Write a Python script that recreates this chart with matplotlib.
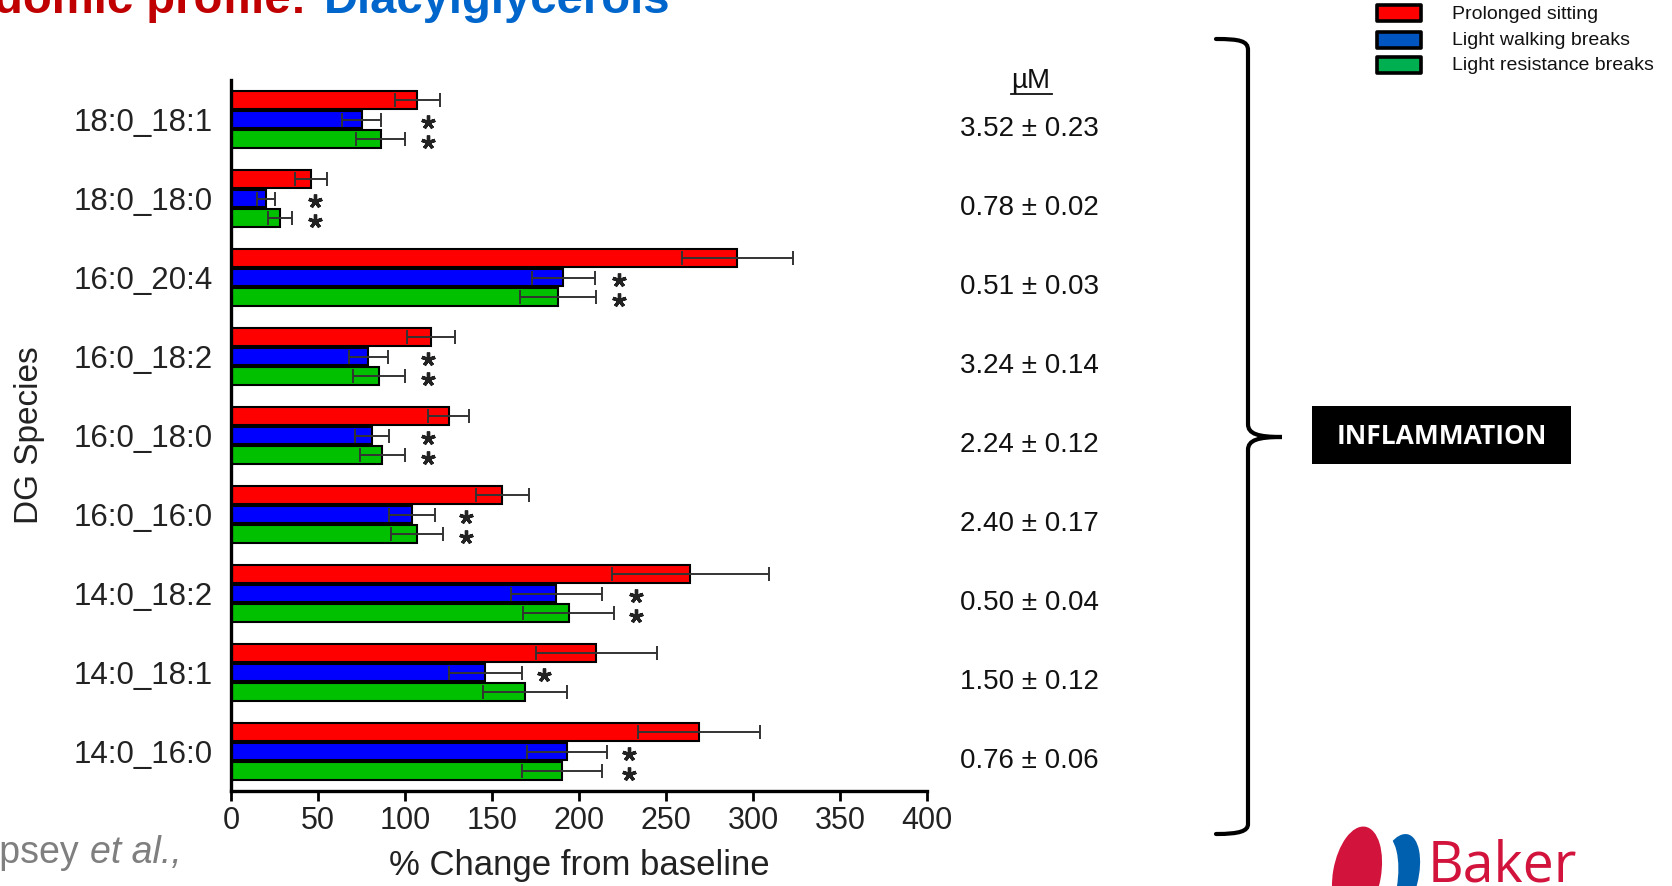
import numpy as np
import matplotlib
matplotlib.use("Agg")
import matplotlib.pyplot as plt
from matplotlib.patches import Rectangle, Ellipse, PathPatch
from matplotlib.path import Path

# data (% change from baseline, mean and SEM)
species = ["18:0_18:1", "18:0_18:0", "16:0_20:4", "16:0_18:2", "16:0_18:0",
           "16:0_16:0", "14:0_18:2", "14:0_18:1", "14:0_16:0"]
sitting = [107, 46, 291, 115, 125, 156, 264, 210, 269]
sitting_err = [13, 9, 32, 14, 12, 15, 45, 35, 35]
walking = [75, 20, 191, 79, 81, 104, 187, 146, 193]
walking_err = [11, 5, 18, 11, 10, 13, 26, 21, 23]
resistance = [86, 28, 188, 85, 87, 107, 194, 169, 190]
resistance_err = [14, 7, 22, 15, 13, 15, 26, 24, 23]
walking_sig = [1, 1, 1, 1, 1, 1, 1, 1, 1]
resistance_sig = [1, 1, 1, 1, 1, 1, 1, 0, 1]
baseline_uM = ["3.52 ± 0.23", "0.78 ± 0.02", "0.51 ± 0.03", "3.24 ± 0.14",
               "2.24 ± 0.12", "2.40 ± 0.17", "0.50 ± 0.04", "1.50 ± 0.12",
               "0.76 ± 0.06"]
legend_labels = ["Prolonged sitting", "Light walking breaks",
                 "Light resistance breaks"]

W, H = 1672, 886
plt.rcParams["font.family"] = ["Liberation Sans", "DejaVu Sans"]

fig = plt.figure(figsize=(W / 100, H / 100), dpi=100)

# overlay in pixel coordinates for slide decorations
deco = fig.add_axes([0, 0, 1, 1])
deco.set_xlim(0, W)
deco.set_ylim(H, 0)
deco.axis("off")

ax = fig.add_axes([231 / W, 1 - 791 / H, (927 - 231) / W, (791 - 80) / H])
ax.patch.set_alpha(0)

y = np.arange(len(species))
bar_h = 0.225
series = [(sitting, sitting_err, "#FF0000", -0.25),
          (walking, walking_err, "#0000FF", 0.0),
          (resistance, resistance_err, "#00C000", 0.25)]
for vals, errs, col, off in series:
    ax.barh(y + off, vals, height=bar_h, color=col, edgecolor="black",
            linewidth=1.5, zorder=2)
    ax.errorbar(vals, y + off, xerr=errs, fmt="none", ecolor="#333333",
                elinewidth=1.4, capsize=5, capthick=1.4, zorder=3)

# significance stars
star = dict(marker=(5, 2, 0), ms=10, mew=2.4, color="#222222",
            clip_on=False, zorder=4)
for i in range(len(species)):
    ends = []
    if walking_sig[i]:
        ends.append(walking[i] + walking_err[i])
    if resistance_sig[i]:
        ends.append(resistance[i] + resistance_err[i])
    if not ends:
        continue
    sx = max(ends) + 13
    if walking_sig[i]:
        ax.plot(sx, y[i] + 0.03, **star)
    if resistance_sig[i]:
        ax.plot(sx, y[i] + 0.28, **star)

# baseline concentrations
for i, txt in enumerate(baseline_uM):
    ax.text(459, y[i] + 0.12, txt, ha="center", va="center", fontsize=20,
            color="#111111", clip_on=False)

ax.set_xlim(0, 400)
ax.set_ylim(len(species) - 0.5, -0.5)
ax.set_xticks(np.arange(0, 401, 50))
ax.set_yticks(y)
ax.set_yticklabels(species)
ax.tick_params(axis="y", length=0, pad=13, labelsize=22.5,
               labelcolor="#222222")
ax.tick_params(axis="x", length=7, width=2, pad=4, labelsize=22,
               labelcolor="#222222")
for side in ["top", "right"]:
    ax.spines[side].set_visible(False)
for side in ["left", "bottom"]:
    ax.spines[side].set_linewidth(2.4)

fig.text(579 / W, 1 - 866 / H, "% Change from baseline", ha="center",
         va="center", fontsize=25, color="#222222")
fig.text(30 / W, 1 - 435 / H, "DG Species", ha="center", va="center",
         rotation=90, fontsize=24, color="#222222")

# µM header with underline
deco.text(1031, 81, "µM", ha="center", va="center", fontsize=20,
          color="#111111")
deco.plot([1011, 1052], [94, 94], color="#111111", lw=1.3)

# title (cut off at top of slide)
deco.text(306, 13, "Lipidomic profile:", ha="right", va="baseline",
          fontsize=34, fontweight="bold", color="#C00000")
deco.text(324, 13, "Diacylglycerols", ha="left", va="baseline",
          fontsize=34, fontweight="bold", color="#0066CC")

# legend
leg_cols = ["#FF0000", "#0055C0", "#00B050"]
leg_y = [13, 39.5, 64.5]
for lab, col, ly in zip(legend_labels, leg_cols, leg_y):
    deco.add_patch(Rectangle((1377, ly - 8), 44, 16, facecolor=col,
                             edgecolor="black", lw=2.6, joinstyle="round"))
    deco.text(1452, ly + 1, lab, ha="left", va="center", fontsize=14,
              color="#111111")

# curly brace
verts = [(1216, 39), (1240, 39), (1248, 41), (1248, 50),
         (1248, 424),
         (1248, 434), (1258, 437), (1282, 437),
         (1258, 437), (1248, 440), (1248, 450),
         (1248, 824),
         (1248, 831), (1240, 834), (1216, 834)]
codes = [Path.MOVETO, Path.CURVE4, Path.CURVE4, Path.CURVE4,
         Path.LINETO,
         Path.CURVE4, Path.CURVE4, Path.CURVE4,
         Path.CURVE4, Path.CURVE4, Path.CURVE4,
         Path.LINETO,
         Path.CURVE4, Path.CURVE4, Path.CURVE4]
deco.add_patch(PathPatch(Path(verts, codes), fill=False, lw=3,
                         edgecolor="black", capstyle="round"))

# INFLAMMATION label
deco.add_patch(Rectangle((1312, 406), 259, 58, facecolor="black",
                         edgecolor="none"))
deco.text(1441.5, 436, "INFLAMMATION", ha="center", va="center",
          fontsize=19, fontweight="bold", color="white",
          family=["Open Sans", "DejaVu Sans"])

# Baker logo (approximate)
deco.add_patch(Ellipse((1397, 878), 42, 90, angle=14, facecolor="#0060B0",
                       edgecolor="none"))
deco.add_patch(Ellipse((1374, 884), 46, 104, angle=10, facecolor="white",
                       edgecolor="none"))
deco.add_patch(Ellipse((1357, 874), 48, 96, angle=10, facecolor="#D2133C",
                       edgecolor="none"))
deco.text(1428, 882, "Baker", ha="left", va="baseline", fontsize=40,
          color="#D2133C", family=["Open Sans", "DejaVu Sans"])

# citation (cut off at left)
deco.text(79, 863, "Dempsey", ha="right", va="baseline", fontsize=27,
          color="#7F7F7F")
deco.text(90, 863, "et al.,", ha="left", va="baseline", fontsize=27,
          style="italic", color="#7F7F7F")

fig.savefig("out.png", dpi=100)
